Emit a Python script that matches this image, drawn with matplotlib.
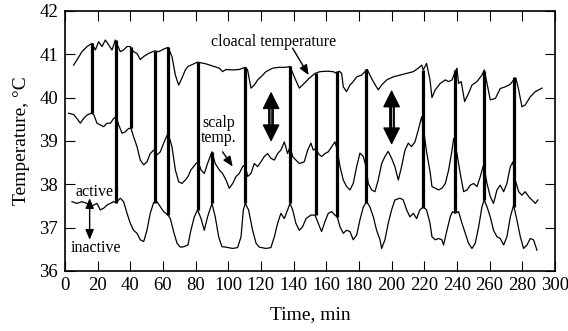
import matplotlib
matplotlib.use("Agg")
import matplotlib.pyplot as plt

plt.rcParams['font.family'] = ['Liberation Serif', 'DejaVu Serif']

# cloacal temperature trace
cloacal_t = [5.3, 7.3, 10.4, 13.5, 16.5, 18.6, 20.6, 22.7, 24.7, 26.7, 28.8, 30.8, 33.9, 35.9,
             38.0, 40.0, 42.0, 44.1, 46.1, 48.2, 51.2, 54.9, 57.3, 60.4, 63.1, 65.5, 67.6,
             69.6, 71.6, 73.7, 75.3, 81.2, 86.3, 90.4, 94.5, 96.5, 98.6, 102.7, 106.7, 110.4,
             111.8, 113.9, 115.9, 118.0, 120.0, 123.1, 127.1, 131.2, 135.3, 137.8, 140.4,
             143.5, 146.5, 149.6, 153.1, 156.1, 160.2, 164.3, 166.3, 168.0, 169.4, 170.4,
             172.4, 174.5, 176.5, 178.6, 181.6, 183.7, 185.1, 186.7, 188.8, 191.8, 193.9,
             197.0, 201.0, 205.1, 209.2, 213.3, 216.3, 218.4, 219.4, 221.4, 223.5, 224.7,
             226.7, 229.8, 232.9, 234.9, 237.0, 238.9, 240.0, 241.0, 242.6, 244.7, 247.1,
             249.2, 252.2, 255.3, 256.7, 258.4, 260.4, 263.5, 266.5, 269.6, 272.7, 274.7,
             276.1, 277.8, 279.8, 281.8, 284.9, 288.0, 292.1]
cloacal_T = [40.75, 40.87, 41.06, 41.18, 41.25, 41.10, 41.29, 41.18, 41.33, 41.22, 41.10, 41.33,
             41.06, 41.10, 41.18, 41.18, 41.06, 41.02, 40.88, 40.95, 41.02, 41.08, 41.06, 41.12,
             41.16, 40.95, 40.52, 40.29, 40.45, 40.64, 40.72, 40.82, 40.78, 40.73, 40.68, 40.60,
             40.65, 40.64, 40.65, 40.70, 40.64, 40.22, 40.29, 40.41, 40.48, 40.60, 40.68, 40.70,
             40.70, 40.72, 40.48, 40.22, 40.33, 40.45, 40.56, 40.60, 40.61, 40.60, 40.56, 40.61,
             40.56, 40.25, 40.14, 40.29, 40.37, 40.48, 40.52, 40.60, 40.65, 40.52, 40.37, 40.18,
             40.29, 40.41, 40.48, 40.52, 40.56, 40.60, 40.68, 40.75, 40.64, 40.79, 40.41, 40.00,
             40.18, 40.33, 40.41, 40.37, 40.41, 40.60, 40.68, 40.33, 40.37, 39.91, 40.10, 40.29,
             40.37, 40.52, 40.64, 40.33, 39.95, 39.98, 40.21, 40.25, 40.31, 40.41, 40.45, 40.18,
             39.79, 39.83, 40.02, 40.14, 40.22]

# scalp temperature trace
scalp_t = [2.2, 5.3, 7.3, 9.4, 11.4, 13.5, 16.1, 17.6, 19.6, 21.6, 23.7, 25.7, 27.8, 29.8, 31.4,
           32.9, 34.9, 36.9, 39.0, 40.4, 42.0, 44.1, 46.1, 48.2, 50.2, 52.2, 54.3, 56.3, 58.4,
           60.4, 63.1, 65.5, 67.6, 69.6, 71.6, 73.7, 75.3, 77.1, 80.2, 81.6, 83.3, 85.3, 87.3,
           90.0, 92.0, 94.5, 96.5, 98.6, 100.6, 102.7, 104.7, 106.7, 108.8, 110.4, 111.8, 113.9,
           115.9, 118.0, 120.0, 122.0, 124.1, 126.1, 128.2, 130.2, 132.2, 134.3, 136.3, 137.8,
           139.4, 141.4, 143.5, 146.5, 148.6, 150.6, 152.0, 153.7, 155.1, 157.1, 159.2, 161.2,
           163.3, 165.3, 166.7, 168.4, 170.4, 172.4, 174.5, 176.5, 178.6, 180.6, 182.7, 184.3,
           185.7, 187.8, 189.8, 191.8, 193.9, 195.9, 197.9, 200.0, 202.0, 204.1, 206.1, 208.2,
           210.2, 212.2, 214.3, 216.3, 218.4, 219.8, 221.4, 223.5, 224.7, 226.7, 228.8, 230.8,
           232.9, 234.9, 237.0, 238.0, 240.0, 242.0, 244.1, 246.1, 248.2, 250.2, 252.3, 254.3,
           256.3, 258.4, 260.4, 262.4, 264.5, 266.5, 268.6, 270.6, 272.7, 274.3, 275.7, 277.8,
           279.8, 281.8, 283.9, 285.9, 288.0, 289.6]
scalp_T = [39.64, 39.61, 39.52, 39.41, 39.52, 39.60, 39.64, 39.61, 39.41, 39.37, 39.33, 39.41,
           39.41, 39.52, 39.56, 39.37, 39.18, 39.21, 39.29, 39.29, 39.10, 38.87, 38.56, 38.45,
           38.52, 38.71, 38.79, 38.68, 38.75, 38.95, 39.18, 38.87, 38.33, 38.06, 38.02, 38.10,
           38.18, 38.33, 38.48, 38.52, 38.33, 38.25, 38.48, 38.75, 38.48, 38.33, 38.25, 38.10,
           37.91, 38.02, 38.18, 38.25, 38.41, 38.45, 38.18, 38.25, 38.48, 38.41, 38.52, 38.64,
           38.71, 38.60, 38.56, 38.71, 38.79, 38.98, 38.71, 38.87, 38.64, 38.56, 38.48, 38.52,
           38.79, 38.95, 38.79, 38.83, 38.71, 38.64, 38.71, 38.75, 38.87, 38.98, 38.79, 38.41,
           38.10, 37.95, 37.87, 38.02, 38.41, 38.72, 38.64, 38.41, 38.02, 37.87, 37.83, 38.10,
           38.48, 38.64, 38.76, 38.60, 38.41, 38.10, 38.41, 38.79, 38.95, 38.87, 38.98, 39.25,
           39.56, 39.20, 38.75, 38.30, 37.95, 37.91, 37.87, 37.91, 38.02, 38.33, 38.79, 39.06,
           38.71, 38.25, 37.83, 37.87, 37.98, 38.02, 37.95, 38.18, 38.45, 38.02, 37.72, 37.56,
           37.87, 37.98, 37.83, 38.02, 38.41, 38.52, 38.10, 37.83, 37.75, 37.83, 37.72, 37.64,
           37.56, 37.64]

# activity trace
activity_t = [4.3, 7.3, 10.4, 13.5, 15.5, 17.6, 19.6, 21.6, 23.7, 25.7, 27.8, 29.8, 31.4, 33.9,
              35.9, 38.0, 40.0, 42.0, 44.1, 46.1, 48.2, 50.2, 52.2, 54.3, 56.3, 58.4, 60.4, 63.1,
              64.5, 66.5, 68.6, 70.6, 72.7, 75.3, 77.1, 79.2, 81.2, 83.3, 85.3, 87.3, 90.0, 92.0,
              94.1, 96.1, 98.6, 102.7, 105.7, 107.8, 109.2, 110.4, 112.4, 114.9, 117.0, 119.0,
              123.1, 126.1, 128.2, 130.2, 132.2, 134.3, 136.3, 137.8, 139.4, 141.4, 143.5, 145.5,
              147.6, 150.6, 153.1, 155.1, 157.1, 159.2, 161.2, 163.3, 165.3, 166.7, 168.4, 170.4,
              172.4, 174.5, 176.5, 178.6, 180.6, 182.7, 184.7, 186.7, 188.8, 190.8, 192.9, 193.9,
              195.9, 197.9, 200.0, 202.0, 205.1, 207.1, 209.2, 211.2, 213.3, 215.3, 217.3, 219.4,
              221.4, 223.5, 224.7, 226.7, 228.8, 230.8, 231.8, 233.9, 235.9, 237.3, 238.9, 241.0,
              243.1, 245.1, 247.1, 249.2, 251.2, 253.3, 255.3, 256.7, 258.4, 260.4, 262.4, 264.5,
              266.5, 268.6, 270.6, 272.7, 274.7, 276.7, 278.8, 280.8, 282.9, 284.9, 286.9, 289.0]
activity_T = [37.60, 37.56, 37.60, 37.56, 37.48, 37.52, 37.56, 37.41, 37.45, 37.52, 37.56, 37.60,
              37.58, 37.68, 37.60, 37.33, 37.10, 36.94, 36.87, 36.72, 36.68, 36.94, 37.33, 37.58,
              37.60, 37.48, 37.37, 37.29, 37.21, 36.91, 36.64, 36.55, 36.56, 36.60, 36.94, 37.25,
              37.41, 37.21, 36.94, 37.25, 37.56, 37.25, 36.79, 36.56, 36.55, 36.52, 36.54, 36.79,
              37.41, 37.56, 37.41, 36.94, 36.64, 36.55, 36.52, 36.54, 36.79, 37.10, 37.33, 37.21,
              37.41, 37.56, 37.41, 37.10, 36.94, 37.02, 37.21, 37.29, 37.29, 37.10, 36.91, 37.14,
              37.33, 37.37, 37.29, 37.25, 37.02, 36.87, 36.94, 36.91, 36.72, 36.83, 37.18, 37.48,
              37.60, 37.48, 37.25, 36.94, 36.72, 36.52, 36.72, 37.10, 37.41, 37.64, 37.68, 37.64,
              37.41, 37.25, 37.33, 37.21, 37.41, 37.48, 37.41, 37.10, 36.79, 36.72, 36.75, 36.72,
              36.60, 36.94, 37.25, 37.37, 37.33, 37.37, 37.10, 36.87, 36.64, 36.52, 36.64, 37.02,
              37.48, 37.64, 37.48, 37.25, 36.94, 36.79, 36.75, 36.60, 36.79, 37.25, 37.52, 37.18,
              36.79, 36.52, 36.60, 36.75, 36.72, 36.48]

# vertical event bars (time, lower end, upper end)
bar_t = [16.5, 31.4, 40.4, 54.9, 63.1, 81.2, 90.0, 110.4, 137.8, 153.7, 166.7, 184.3,
         219.4, 238.6, 256.3, 275.1]
bar_lo = [39.64, 37.58, 39.29, 37.58, 37.29, 37.41, 37.56, 37.56, 37.56, 37.29, 37.25, 37.56,
          37.45, 37.37, 37.64, 37.48]
bar_hi = [41.25, 41.33, 41.18, 41.08, 41.16, 40.82, 38.75, 40.70, 40.72, 40.56, 40.61, 40.65,
          40.64, 40.64, 40.62, 40.48]

x_ticks = list(range(0, 301, 20))
y_ticks = [36, 37, 38, 39, 40, 41, 42]

fig = plt.figure(figsize=(5.68, 3.31), dpi=100)
ax = fig.add_axes([0.1144, 0.1813, 0.977 - 0.1144, 0.9668 - 0.1813])

ax.plot(cloacal_t, cloacal_T, color='black', lw=0.9)
ax.plot(scalp_t, scalp_T, color='black', lw=0.9)
ax.plot(activity_t, activity_T, color='black', lw=0.9)
ax.vlines(bar_t, bar_lo, bar_hi, color='black', lw=2.3)

# big double arrows: filled heads, hollow shaft
for t, lo, hi in [(126.2, 38.98, 40.14), (200.0, 38.91, 40.18)]:
    ax.annotate('', xy=(t, hi), xytext=(t, lo),
                arrowprops=dict(arrowstyle='<|-|>,head_length=1.1,head_width=0.55',
                                lw=1.0, color='black', shrinkA=0, shrinkB=0,
                                mutation_scale=10))
    ax.plot([t, t], [lo + 0.27, hi - 0.27], color='black', lw=4.2, solid_capstyle='butt')
    ax.plot([t, t], [lo + 0.29, hi - 0.29], color='white', lw=1.5, solid_capstyle='butt')

# active / inactive arrow
ax.annotate('', xy=(15.1, 37.68), xytext=(15.1, 36.72),
            arrowprops=dict(arrowstyle='<|-|>,head_length=0.6,head_width=0.25',
                            lw=1.0, color='black', shrinkA=0, shrinkB=0,
                            mutation_scale=10))
ax.text(6.3, 37.82, 'active', fontsize=11.5, ha='left', va='center')
ax.text(3.2, 36.52, 'inactive', fontsize=11.5, ha='left', va='center')

ax.text(84.3, 39.41, 'scalp', fontsize=11.5, ha='left', va='center')
ax.text(83.3, 39.06, 'temp.', fontsize=11.5, ha='left', va='center')
ax.annotate('', xy=(102.7, 38.41), xytext=(96.5, 38.75),
            arrowprops=dict(arrowstyle='-|>,head_length=0.6,head_width=0.25',
                            lw=1.0, color='black', shrinkA=0, shrinkB=0,
                            mutation_scale=10))

ax.text(89.4, 41.29, 'cloacal temperature', fontsize=11.5, ha='left', va='center')
ax.annotate('', xy=(149.2, 40.52), xytext=(139.4, 41.14),
            arrowprops=dict(arrowstyle='-|>,head_length=0.6,head_width=0.25',
                            lw=1.0, color='black', shrinkA=0, shrinkB=0,
                            mutation_scale=10))

ax.set_xlim(0, 300)
ax.set_ylim(36, 42)
ax.set_xticks(x_ticks)
ax.set_yticks(y_ticks)
ax.tick_params(direction='in', length=7.5, width=0.8, top=True, right=True,
               labelsize=13.5, pad=4)
ax.tick_params(axis='y', pad=5)
for s in ax.spines.values():
    s.set_linewidth(1.2)

ax.set_xlabel('Time, min', fontsize=14, labelpad=9)
ax.set_ylabel('Temperature, °C', fontsize=14, labelpad=7)

fig.savefig('out.png', dpi=100)
